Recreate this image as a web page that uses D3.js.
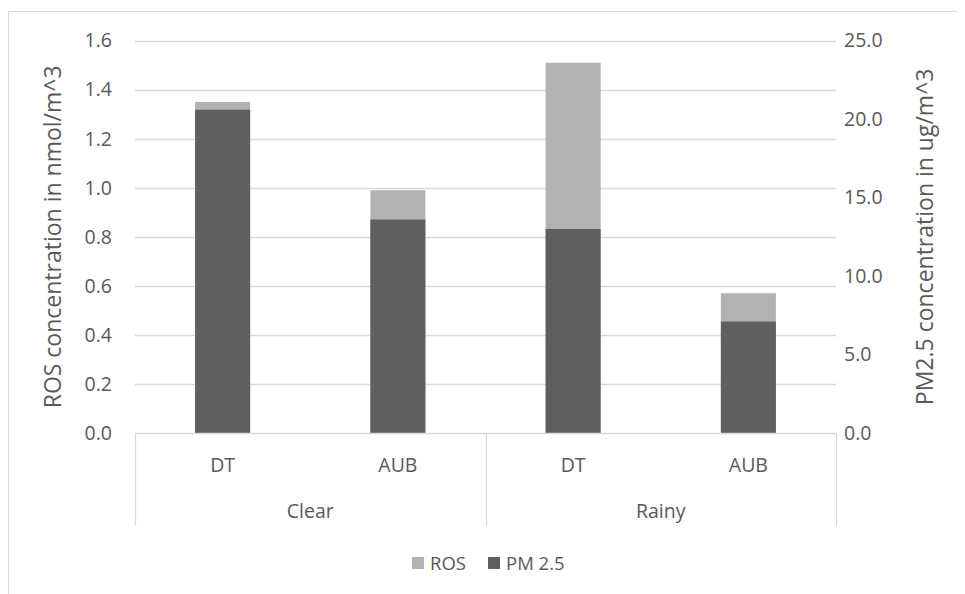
<!DOCTYPE html>
<html>
<head>
<meta charset="utf-8">
<script src="https://cdn.jsdelivr.net/npm/d3@7/dist/d3.min.js"></script>
<style>
  html, body { margin: 0; padding: 0; background: #fff; }
  svg { display: block; }
  text { font-family: "Open Sans", "DejaVu Sans", sans-serif; fill: #595959; }
</style>
</head>
<body>
<svg id="chart" width="965" height="594"></svg>
<script>
// Sites within each weather condition
const sites = ["DT", "AUB", "DT", "AUB"];
const conditions = ["Clear", "Rainy"];
// ROS concentration (nmol/m^3), primary axis
const rosValues = [1.35, 0.99, 1.51, 0.57];
// PM2.5 concentration (ug/m^3), secondary axis
const pmValues = [20.6, 13.6, 13.0, 7.1];
// Tick values for both value axes
const leftTicks = [0, 0.2, 0.4, 0.6, 0.8, 1.0, 1.2, 1.4, 1.6];
const rightTicks = [0, 5, 10, 15, 20, 25];

const svg = d3.select("#chart");
const plot = { left: 135, right: 836, top: 40.7, bottom: 433 };

const ROS_COLOR = "#b2b2b2";
const PM_COLOR = "#5f5f5f";
const GRID = "#d9d9d9";
const TICK_SIZE = 19.5;

// Outer chart frame (left and top edges visible)
svg.append("path")
  .attr("d", "M8.5,600 L8.5,11.5 L957,11.5")
  .attr("fill", "none").attr("stroke", "#d9d9d9").attr("stroke-width", 1);

const idx = d3.range(sites.length);
const x = d3.scaleBand().domain(idx).range([plot.left, plot.right]).padding(0);
const barW = x.bandwidth() * 0.314;

const yL = d3.scaleLinear().domain([0, 1.6]).range([plot.bottom, plot.top]);
const yR = d3.scaleLinear().domain([0, 25]).range([plot.bottom, plot.top]);

// Gridlines
svg.append("g").selectAll("line").data(leftTicks.slice(1)).join("line")
  .attr("x1", plot.left).attr("x2", plot.right)
  .attr("y1", d => Math.round(yL(d)) + 0.5).attr("y2", d => Math.round(yL(d)) + 0.5)
  .attr("stroke", GRID).attr("stroke-width", 1.3);

// Left axis labels
const leftAxis = d3.axisLeft(yL).tickValues(leftTicks).tickFormat(d3.format(".1f")).tickSize(0).tickPadding(23);
const gL = svg.append("g").attr("transform", `translate(${plot.left},0)`).call(leftAxis);
gL.select(".domain").remove();
gL.selectAll("text").attr("font-size", TICK_SIZE).attr("fill", "#595959")
  .attr("font-family", "'Open Sans', sans-serif");

// Right axis labels
const rightAxis = d3.axisRight(yR).tickValues(rightTicks).tickFormat(d3.format(".1f")).tickSize(0).tickPadding(8);
const gR = svg.append("g").attr("transform", `translate(${plot.right},0)`).call(rightAxis);
gR.select(".domain").remove();
gR.selectAll("text").attr("font-size", TICK_SIZE).attr("fill", "#595959")
  .attr("font-family", "'Open Sans', sans-serif");

// ROS bars (primary axis)
svg.append("g").selectAll("rect").data(rosValues).join("rect")
  .attr("x", (d, i) => x(i) + (x.bandwidth() - barW) / 2)
  .attr("width", barW)
  .attr("y", d => yL(d))
  .attr("height", d => yL(0) - yL(d))
  .attr("fill", ROS_COLOR);

// PM2.5 bars (secondary axis), drawn on top
svg.append("g").selectAll("rect").data(pmValues).join("rect")
  .attr("x", (d, i) => x(i) + (x.bandwidth() - barW) / 2)
  .attr("width", barW)
  .attr("y", d => yR(d))
  .attr("height", d => yR(0) - yR(d))
  .attr("fill", PM_COLOR);

// Category axis: baseline and group dividers
const catBottom = 526;
const axisG = svg.append("g").attr("stroke", GRID).attr("stroke-width", 1.3);
axisG.append("line").attr("x1", plot.left).attr("x2", plot.right)
  .attr("y1", plot.bottom + 0.5).attr("y2", plot.bottom + 0.5);
const dividers = [0, 2, 4].map(i => i < sites.length ? x(i) : plot.right);
axisG.selectAll("line.div").data(dividers).join("line").attr("class", "div")
  .attr("x1", d => Math.round(d) + 0.5).attr("x2", d => Math.round(d) + 0.5)
  .attr("y1", plot.bottom).attr("y2", catBottom);

// Site labels
svg.append("g").selectAll("text").data(sites).join("text")
  .attr("x", (d, i) => x(i) + x.bandwidth() / 2)
  .attr("y", 472)
  .attr("text-anchor", "middle").attr("font-size", TICK_SIZE)
  .text(d => d);

// Condition labels
svg.append("g").selectAll("text").data(conditions).join("text")
  .attr("x", (d, i) => (x(i * 2) + x(i * 2 + 1) + x.bandwidth()) / 2)
  .attr("y", 518)
  .attr("text-anchor", "middle").attr("font-size", TICK_SIZE)
  .text(d => d);

// Axis titles
const midY = (plot.top + plot.bottom) / 2;
svg.append("text")
  .attr("transform", `translate(61,${midY}) rotate(-90)`)
  .attr("text-anchor", "middle").attr("font-size", 23)
  .text("ROS concentration in nmol/m^3");
svg.append("text")
  .attr("transform", `translate(933,${midY}) rotate(-90)`)
  .attr("text-anchor", "middle").attr("font-size", 23)
  .text("PM2.5 concentration in ug/m^3");

// Legend
const legendItems = [
  { name: "ROS", color: ROS_COLOR },
  { name: "PM 2.5", color: PM_COLOR }
];
const legend = svg.append("g");
const lx = [412, 488];
legendItems.forEach((it, i) => {
  legend.append("rect").attr("x", lx[i]).attr("y", 557).attr("width", 12).attr("height", 12)
    .attr("fill", it.color);
  legend.append("text").attr("x", lx[i] + 18).attr("y", 570).attr("font-size", 18.5)
    .text(it.name);
});
</script>
</body>
</html>
